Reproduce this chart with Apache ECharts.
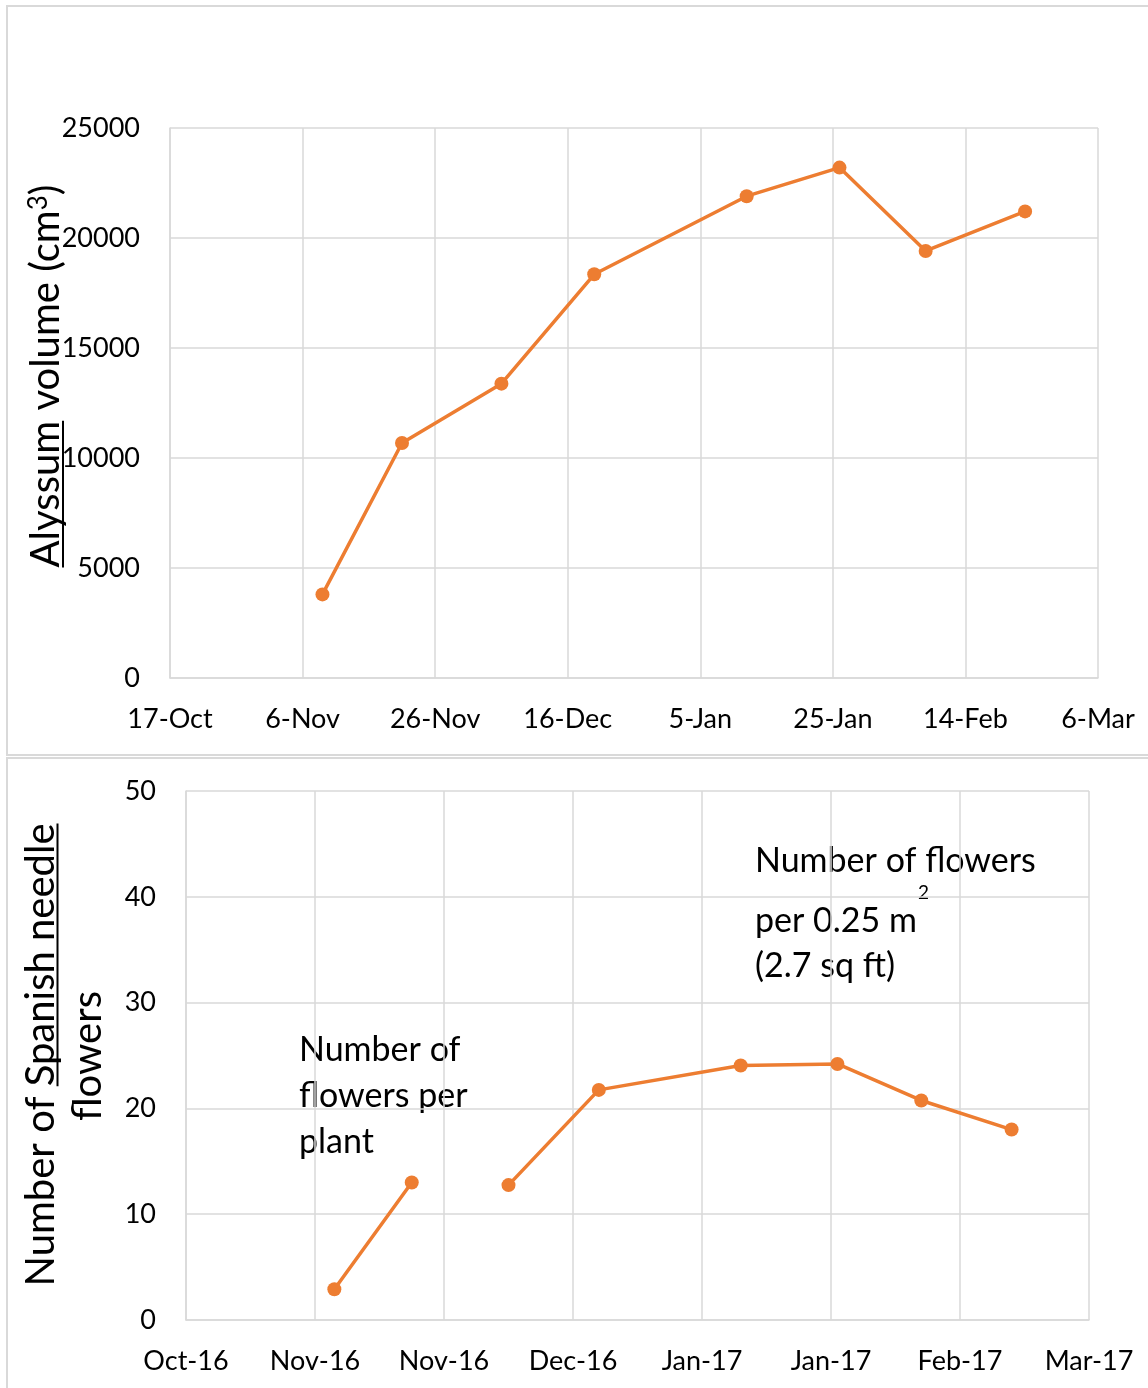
<!DOCTYPE html>
<html>
<head>
<meta charset="utf-8">
<script src="https://cdn.jsdelivr.net/npm/echarts@6/dist/echarts.min.js"></script>
<style>
  html, body { margin: 0; padding: 0; background: #ffffff; }
  #chart { width: 1148px; height: 1388px; }
</style>
</head>
<body>
<div id="chart"></div>
<script>
// Shared date axis: 17 Oct 2016 to 6 Mar 2017, ticks every 20 days
const axisStart = '2016-10-17';
const axisDays = 140;
const tickStep = 20;
const volumeTickLabels = ['17-Oct', '6-Nov', '26-Nov', '16-Dec', '5-Jan', '25-Jan', '14-Feb', '6-Mar'];
const flowerTickLabels = ['Oct-16', 'Nov-16', 'Nov-16', 'Dec-16', 'Jan-17', 'Jan-17', 'Feb-17', 'Mar-17'];

// Alyssum canopy volume (cm3)
const volumeDates = ['2016-11-09', '2016-11-21', '2016-12-06', '2016-12-20', '2017-01-12', '2017-01-26', '2017-02-08', '2017-02-23'];
const volumeValues = [3800, 10680, 13380, 18350, 21900, 23200, 19410, 21210];

// Spanish needle flowers: per plant (first two), then per 0.25 m2; null breaks the line
const flowerDates = ['2016-11-09', '2016-11-21', '2016-11-28', '2016-12-06', '2016-12-20', '2017-01-11', '2017-01-26', '2017-02-08', '2017-02-22'];
const flowerValues = [2.9, 13.0, null, 12.75, 21.75, 24.05, 24.2, 20.75, 18.0];

const volumeTicks = [0, 5000, 10000, 15000, 20000, 25000];
const flowerTicks = [0, 10, 20, 30, 40, 50];

const FONT = 'Lato';
const ORANGE = '#ED7D31';
const GRIDC = '#d9d9d9';

function dayOffset(d) {
  return (Date.parse(d + 'T00:00:00Z') - Date.parse(axisStart + 'T00:00:00Z')) / 86400000;
}
function toSeries(dates, values) {
  return dates.map((d, i) => [dayOffset(d), values[i] == null ? '-' : values[i]]);
}

// text width helper for placing underlines under rotated titles
const mctx = document.createElement('canvas').getContext('2d');
function textW(str, size) {
  mctx.font = size + 'px ' + FONT;
  return mctx.measureText(str).width;
}

function xAxisCfg(grid, labels) {
  return {
    gridIndex: grid, type: 'value', min: 0, max: axisDays, interval: tickStep,
    axisLine: { show: true, lineStyle: { color: GRIDC, width: 1.5 } },
    axisTick: { show: false },
    splitLine: { show: true, lineStyle: { color: GRIDC, width: 1.5 } },
    axisLabel: {
      margin: 28, color: '#000', fontFamily: FONT, fontSize: 27,
      showMinLabel: true, showMaxLabel: true, hideOverlap: false,
      formatter: v => labels[Math.round(v / tickStep)]
    }
  };
}
function yAxisCfg(grid, ticks) {
  return {
    gridIndex: grid, type: 'value', min: ticks[0], max: ticks[ticks.length - 1],
    interval: ticks[1] - ticks[0],
    axisLine: { show: true, lineStyle: { color: GRIDC, width: 1.5 } },
    axisTick: { show: false },
    splitLine: { show: true, lineStyle: { color: GRIDC, width: 1.5 } },
    axisLabel: {
      margin: 30, color: '#000', fontFamily: FONT, fontSize: 27,
      formatter: v => String(v)
    }
  };
}
function lineSeries(idx, data) {
  return {
    type: 'line', xAxisIndex: idx, yAxisIndex: idx, data: data,
    symbol: 'circle', symbolSize: 14, connectNulls: false,
    lineStyle: { color: ORANGE, width: 3.5 },
    itemStyle: { color: ORANGE },
    emphasis: { disabled: true }
  };
}

// Rotated y-axis titles
const TITLE_SIZE = 40;
const SUP_SIZE = 26;
const t1cx = 46, t1cy = 376;
const t1Total = textW('Alyssum volume (cm', TITLE_SIZE) + textW('3', SUP_SIZE) + textW(')', TITLE_SIZE);
const t1Start = t1cy + t1Total / 2;
const t1Under = textW('Alyssum', TITLE_SIZE);

const t2cx = 41, t2cy = 1055;
const t2Text = 'Number of Spanish needle';
const t2Total = textW(t2Text, TITLE_SIZE);
const t2Start = t2cy + t2Total / 2;
const t2a = textW('Number of ', TITLE_SIZE);

function rotText(x, y, text) {
  return {
    type: 'text', x: x, y: y, rotation: Math.PI / 2,
    style: {
      text: text, fill: '#000', fontFamily: FONT, fontSize: TITLE_SIZE,
      align: 'center', verticalAlign: 'middle', textAlign: 'center', textVerticalAlign: 'middle'
    }
  };
}
function note(x, y, text, size) {
  return {
    type: 'text', x: x, y: y,
    style: {
      text: text, fill: '#000', fontFamily: FONT, fontSize: size || 34,
      align: 'left', verticalAlign: 'middle', textAlign: 'left', textVerticalAlign: 'middle'
    }
  };
}

const t1 = rotText(t1cx, t1cy, '{a|Alyssum volume (cm}{s|3}{a|)}');
t1.style.rich = {
  a: { fontFamily: FONT, fontSize: TITLE_SIZE, fill: '#000' },
  s: { fontFamily: FONT, fontSize: SUP_SIZE, fill: '#000', verticalAlign: 'top' }
};

const chart = echarts.init(document.getElementById('chart'), null, { renderer: 'canvas' });
chart.setOption({
  animation: false,
  backgroundColor: '#ffffff',
  grid: [
    { left: 170, top: 128, width: 928, height: 550 },
    { left: 186, top: 791, width: 903, height: 529 }
  ],
  xAxis: [xAxisCfg(0, volumeTickLabels), xAxisCfg(1, flowerTickLabels)],
  yAxis: [yAxisCfg(0, volumeTicks), yAxisCfg(1, flowerTicks)],
  series: [
    lineSeries(0, toSeries(volumeDates, volumeValues)),
    lineSeries(1, toSeries(flowerDates, flowerValues))
  ],
  graphic: [
    { type: 'rect', shape: { x: 7, y: 6, width: 1170, height: 749 }, style: { fill: null, stroke: GRIDC, lineWidth: 2 }, silent: true },
    { type: 'rect', shape: { x: 7, y: 758, width: 1170, height: 660 }, style: { fill: null, stroke: GRIDC, lineWidth: 2 }, silent: true },
    t1,
    { type: 'line', shape: { x1: 63, y1: t1Start, x2: 63, y2: t1Start - t1Under }, style: { stroke: '#000', lineWidth: 2 } },
    rotText(t2cx, t2cy, t2Text),
    rotText(88, 1056, 'flowers'),
    { type: 'line', shape: { x1: 57.5, y1: t2Start - t2a, x2: 57.5, y2: t2Start - t2Total }, style: { stroke: '#000', lineWidth: 2 } },
    note(299, 1050, 'Number of'),
    note(299, 1096, 'flowers per'),
    note(299, 1142, 'plant'),
    note(755, 861, 'Number of flowers'),
    note(755, 921, 'per 0.25 m'),
    note(918, 893, '2', 19),
    note(755, 966, '(2.7 sq ft)')
  ]
});
</script>
</body>
</html>
